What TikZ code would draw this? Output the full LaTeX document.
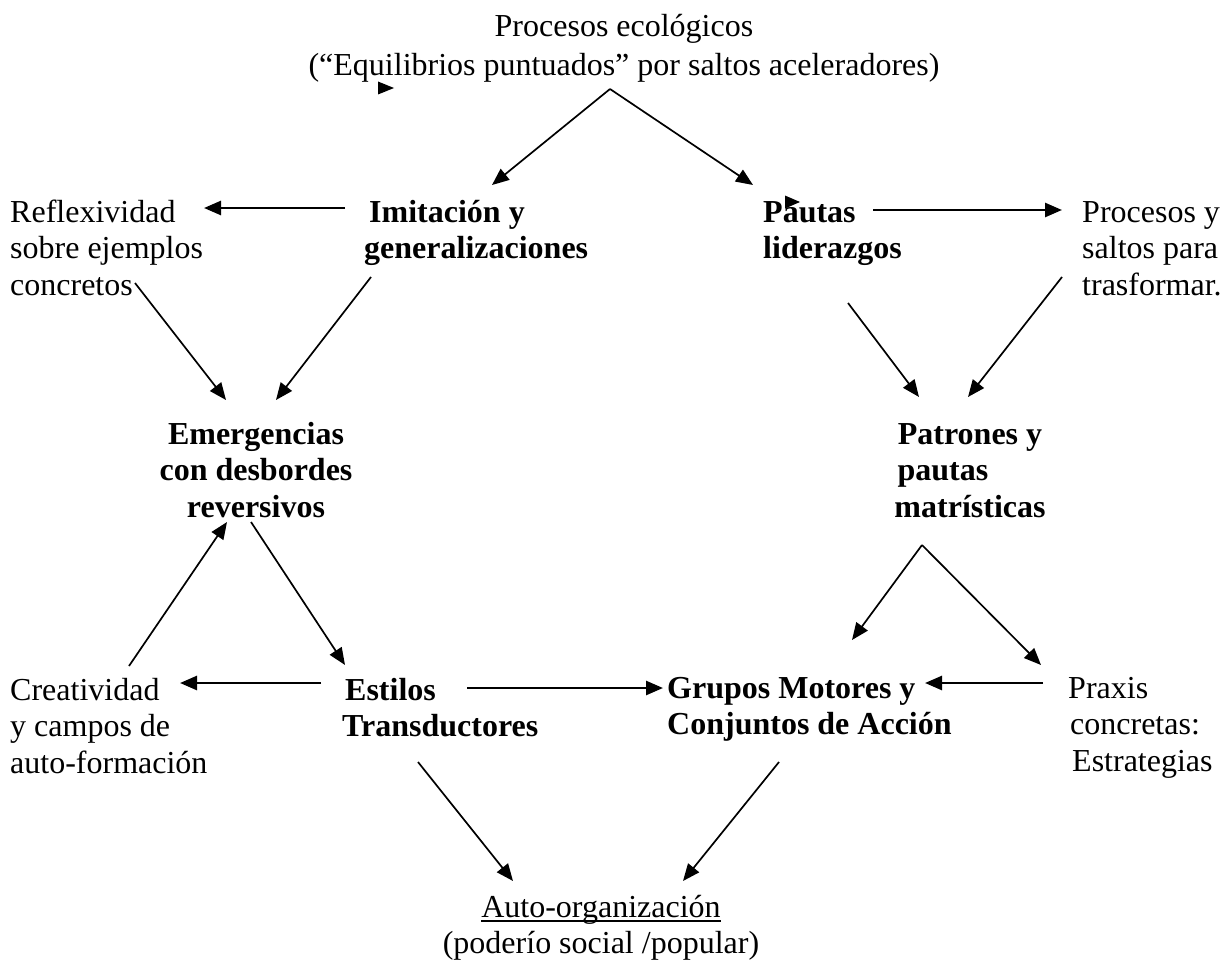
\documentclass[tikz,border=0pt]{standalone}
\usepackage{fontspec}
\setmainfont{Liberation Serif}
\usetikzlibrary{arrows.meta}
\newcommand\myul[1]{\setbox0\hbox{#1}\rlap{\rule[-4.5pt]{\wd0}{1.5pt}}\box0}
\begin{document}
\begin{tikzpicture}[x=1pt,y=-1pt,
  txt/.style={inner sep=0pt, font=\fontsize{32}{36.7}\selectfont},
  bx/.style={inner sep=0pt, font=\fontsize{32}{36.7}\selectfont\bfseries},
  darr/.style={line width=1.7pt, -{Triangle[length=17pt,width=14pt]}},
  harr/.style={line width=2.6pt, -{Triangle[length=17pt,width=14pt]}}]
\useasboundingbox (0,0) rectangle (1228,963);

% nodes (anchor = baseline of the last line)
\node[txt, align=center, anchor=base] (title) at (624,76) {Procesos ecológicos\\[2.3pt](“Equilibrios puntuados” por saltos aceleradores)};
\node[txt, align=left, anchor=base west] (refl) at (10,295.4) {Reflexividad\\sobre ejemplos\\concretos};
\node[bx, align=left, anchor=base west] (imit) at (364,258.7) {\hspace{5pt}Imitación y\\generalizaciones};
\node[bx, align=left, anchor=base west] (paut) at (763,258.7) {Pautas\\liderazgos};
\node[txt, align=left, anchor=base west] (procy) at (1082,295.4) {Procesos y\\saltos para\\trasformar.};
\node[bx, align=center, anchor=base] (emerg) at (256,517.4) {Emergencias\\con desbordes\\reversivos};
\node[bx, align=center, anchor=base] (patr) at (970,517.4) {Patrones y\\\makebox[145pt][l]{pautas}\\matrísticas};
\node[txt, align=left, anchor=base west] (creat) at (10,773.4) {Creatividad\\y campos de\\auto-formación};
\node[bx, align=left, anchor=base west] (est) at (342,736.7) {\hspace{3pt}Estilos\\Transductores};
\node[bx, align=left, anchor=base west] (grup) at (667,734.7) {Grupos Motores y\\Conjuntos de Acción};
\node[txt, align=left, anchor=base west] (prax) at (1068,771.4) {Praxis\\\hspace{2pt}concretas:\\\hspace{4pt}Estrategias};
\node[txt, align=center, anchor=base] (auto) at (601,953.7) {\myul{Auto-organización}\\(poderío social /popular)};

% diagonal connectors
\draw[darr] ([shift={(-14,13)}]title.base) -- ([shift={(128,-73.7)}]imit.base west);
\draw[darr] ([shift={(-14,13)}]title.base) -- ([shift={(-10,-73.7)}]paut.base west);
\draw[darr] ([shift={(125,-12.4)}]refl.base west) -- ([shift={(-30,-117.4)}]emerg.base);
\draw[darr] ([shift={(7,18.3)}]imit.base west) -- ([shift={(20,-117.4)}]emerg.base);
\draw[darr] ([shift={(85,44.3)}]paut.base west) -- ([shift={(-51,-120.4)}]patr.base);
\draw[darr] ([shift={(-20,-18.4)}]procy.base west) -- ([shift={(-2,-120.4)}]patr.base);
\draw[darr] ([shift={(119,-107.4)}]creat.base west) -- ([shift={(-29,4.6)}]emerg.base);
\draw[darr] ([shift={(-5,4.6)}]emerg.base) -- ([shift={(3,-71.7)}]est.base west);
\draw[darr] ([shift={(-48,27.6)}]patr.base) -- ([shift={(185,-94.7)}]grup.base west);
\draw[darr] ([shift={(-48,27.6)}]patr.base) -- ([shift={(-27,-106.4)}]prax.base west);
\draw[darr] ([shift={(76,25.3)}]est.base west) -- ([shift={(-88,-72.7)}]auto.base);
\draw[darr] ([shift={(112,27.3)}]grup.base west) -- ([shift={(82,-72.7)}]auto.base);

% horizontal connectors
\draw[harr] ([shift={(-19,-50.7)}]imit.base west) -- ([shift={(194,-87.4)}]refl.base west);
\draw[harr] ([shift={(110,-48.7)}]paut.base west) -- ([shift={(-20,-85.4)}]procy.base west);
\draw[harr] ([shift={(-21,-53.7)}]est.base west) -- ([shift={(170,-90.4)}]creat.base west);
\draw[harr] ([shift={(125,-48.7)}]est.base west) -- ([shift={(-4,-46.7)}]grup.base west);
\draw[harr] ([shift={(-25,-88.4)}]prax.base west) -- ([shift={(258,-51.7)}]grup.base west);

% stray arrowheads
\fill (378,81.5) -- (394,88) -- (378,94.5) -- cycle;
\fill (785,195.5) -- (800,202) -- (785,208.5) -- cycle;
\end{tikzpicture}
\end{document}
